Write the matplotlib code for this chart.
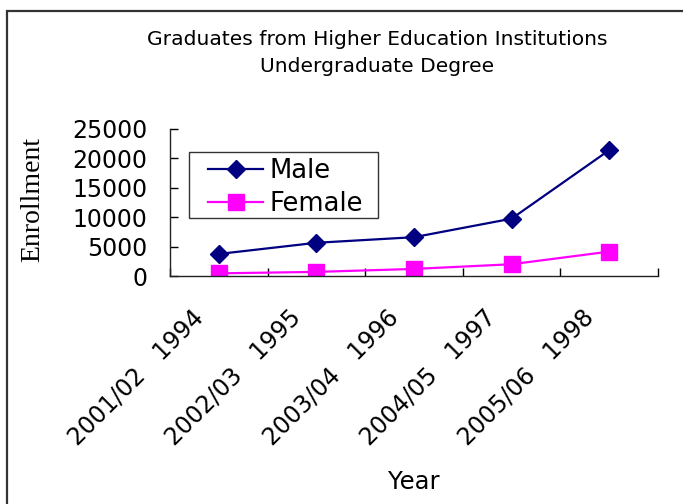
import matplotlib
matplotlib.use("Agg")
import matplotlib.pyplot as plt
import matplotlib.transforms as mtransforms

# data
years = ["2001/02   1994", "2002/03   1995", "2003/04   1996",
         "2004/05   1997", "2005/06   1998"]
male = [3750, 5650, 6600, 9750, 21400]
female = [450, 700, 1200, 2000, 4150]

W, H = 683, 504
fig = plt.figure(figsize=(W / 100, H / 100), dpi=100)

# outer frame (left + top visible)
fig.add_artist(plt.Rectangle((7 / W, -0.1), 1.2, 1 - 11 / H + 0.1,
                             transform=fig.transFigure, fill=False,
                             ec='#333333', lw=1.6))

ax = fig.add_axes([170 / W, 1 - 276 / H, 488 / W, 147 / H])
x = list(range(len(years)))
ax.plot(x, male, color='#000080', lw=1.6, marker='D', ms=9.5, label='Male')
ax.plot(x, female, color='#FF00FF', lw=1.6, marker='s', ms=11, label='Female')

ax.set_xlim(-0.5, len(years) - 0.5)
ax.set_ylim(0, 25000)
ax.set_yticks(range(0, 25001, 5000))
ax.set_xticks([i - 0.5 for i in range(len(years) + 1)])
ax.set_xticklabels([])
ax.tick_params(direction='in', length=6, width=1, colors='black',
               labelsize=17)
ax.tick_params(axis='y', pad=16.5)
for s in ['top', 'right']:
    ax.spines[s].set_visible(False)
for s in ['left', 'bottom']:
    ax.spines[s].set_linewidth(1.0)
    ax.spines[s].set_color('#222222')

# rotated category labels
off = mtransforms.ScaledTranslation(-28 / 100, -29 / 100, fig.dpi_scale_trans)
trans = mtransforms.blended_transform_factory(ax.transData, ax.transAxes) + off
for i, lab in enumerate(years):
    ax.text(i, 0, lab, transform=trans, rotation=45, rotation_mode='anchor',
            ha='right', va='top', fontsize=17)

fig.text(414 / W, 1 - 482 / H, 'Year', ha='center', va='center', fontsize=17.5)
fig.text(33 / W, 1 - 200 / H, 'Enrollment', ha='center', va='center',
         rotation=90, fontsize=20, family='Liberation Serif')

fig.text(377 / W, 1 - 40 / H, 'Graduates from Higher Education Institutions',
         ha='center', va='center', fontsize=14.6)
fig.text(377 / W, 1 - 67 / H, 'Undergraduate Degree',
         ha='center', va='center', fontsize=14.6)

# legend: entries placed by matplotlib, frame drawn as a plain box
ax.legend(loc='upper left', bbox_to_anchor=(208 / W, 1 - 158 / H),
          bbox_transform=fig.transFigure, borderaxespad=0, frameon=False,
          fontsize=18.6, handlelength=2.13, handletextpad=0.27,
          labelspacing=0.27, borderpad=0)
fig.add_artist(plt.Rectangle((189 / W, 1 - 218 / H), 189 / W, 66 / H,
                             transform=fig.transFigure, fill=False,
                             ec='#333333', lw=1.0))

fig.savefig('out.png', dpi=100)
